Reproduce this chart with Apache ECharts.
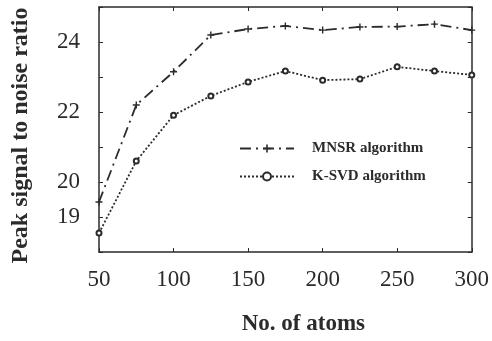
<!DOCTYPE html>
<html>
<head>
    <meta charset="UTF-8">
    <title></title>
    <script src="https://cdn.jsdelivr.net/npm/echarts@6/dist/echarts.min.js"></script>
</head>
<body style="margin:0;background:#fff;">
<div id="main" style="width: 492px;height:341px;"></div>
<script type="text/javascript">
    var atoms = [50, 75, 100, 125, 150, 175, 200, 225, 250, 275, 300];
    var mnsr = [19.43, 22.2, 23.15, 24.2, 24.37, 24.46, 24.34, 24.43, 24.44, 24.51, 24.34];
    var ksvd = [18.54, 20.6, 21.91, 22.46, 22.86, 23.17, 22.91, 22.94, 23.29, 23.17, 23.06];
    var yLabels = [19, 20, 22, 24];

    var myChart = echarts.init(document.getElementById('main'));
    var ink = '#2b2b2b';
    var serif = 'Liberation Serif';

    function pairs(ys) {
        return atoms.map(function (x, i) { return [x, ys[i]]; });
    }

    var axisBase = {
        axisLine: { lineStyle: { color: ink, width: 1.5 } },
        axisTick: { inside: true, length: 4, lineStyle: { color: ink } },
        splitLine: { show: false }
    };

    option = {
        animation: false,
        grid: { left: 99, right: 20, top: 7, bottom: 86 },
        legend: {
            orient: 'vertical',
            left: 234,
            top: 136,
            itemWidth: 54,
            itemHeight: 10,
            itemGap: 13,
            textStyle: {
                fontFamily: serif,
                fontWeight: 'bold',
                fontSize: 15,
                color: ink,
                padding: [0, 0, 0, 13]
            },
            data: ['MNSR algorithm', 'K-SVD algorithm']
        },
        xAxis: [
            Object.assign({}, axisBase, {
                type: 'value',
                min: 50, max: 300, interval: 50,
                name: 'No. of atoms',
                nameLocation: 'middle',
                nameGap: 61,
                nameTextStyle: { fontFamily: serif, fontWeight: 'bold', fontSize: 23, color: ink, padding: [0, 0, 0, 36] },
                axisLabel: { fontFamily: serif, fontSize: 23, color: ink, margin: 16 }
            }),
            Object.assign({}, axisBase, {
                type: 'value', position: 'top',
                min: 50, max: 300, interval: 50,
                axisLabel: { show: false }
            })
        ],
        yAxis: [
            Object.assign({}, axisBase, {
                type: 'value',
                min: 18, max: 25, interval: 1,
                name: 'Peak signal to noise ratio',
                nameLocation: 'middle',
                nameGap: 66,
                nameTextStyle: { fontFamily: serif, fontWeight: 'bold', fontSize: 24, color: ink, padding: [0, 12, 0, 0] },
                axisLabel: {
                    fontFamily: serif, fontSize: 23, color: ink, margin: 19,
                    formatter: function (v) { return yLabels.indexOf(v) >= 0 ? String(v) : ''; }
                }
            }),
            Object.assign({}, axisBase, {
                type: 'value', position: 'right',
                min: 18, max: 25, interval: 1,
                axisLabel: { show: false }
            })
        ],
        series: [
            {
                name: 'MNSR algorithm',
                type: 'line',
                data: pairs(mnsr),
                symbol: 'path://M4,0h2v4h4v2h-4v4h-2v-4h-4v-2h4z',
                symbolSize: 7,
                itemStyle: { color: ink },
                lineStyle: { color: ink, width: 1.8, type: [11, 5, 2, 5] }
            },
            {
                name: 'K-SVD algorithm',
                type: 'line',
                data: pairs(ksvd),
                symbol: 'emptyCircle',
                symbolSize: 5,
                itemStyle: { color: ink, borderWidth: 1 },
                lineStyle: { color: ink, width: 1.8, type: [2, 2] }
            }
        ]
    };
    myChart.setOption(option);
</script>
</body>
</html>
